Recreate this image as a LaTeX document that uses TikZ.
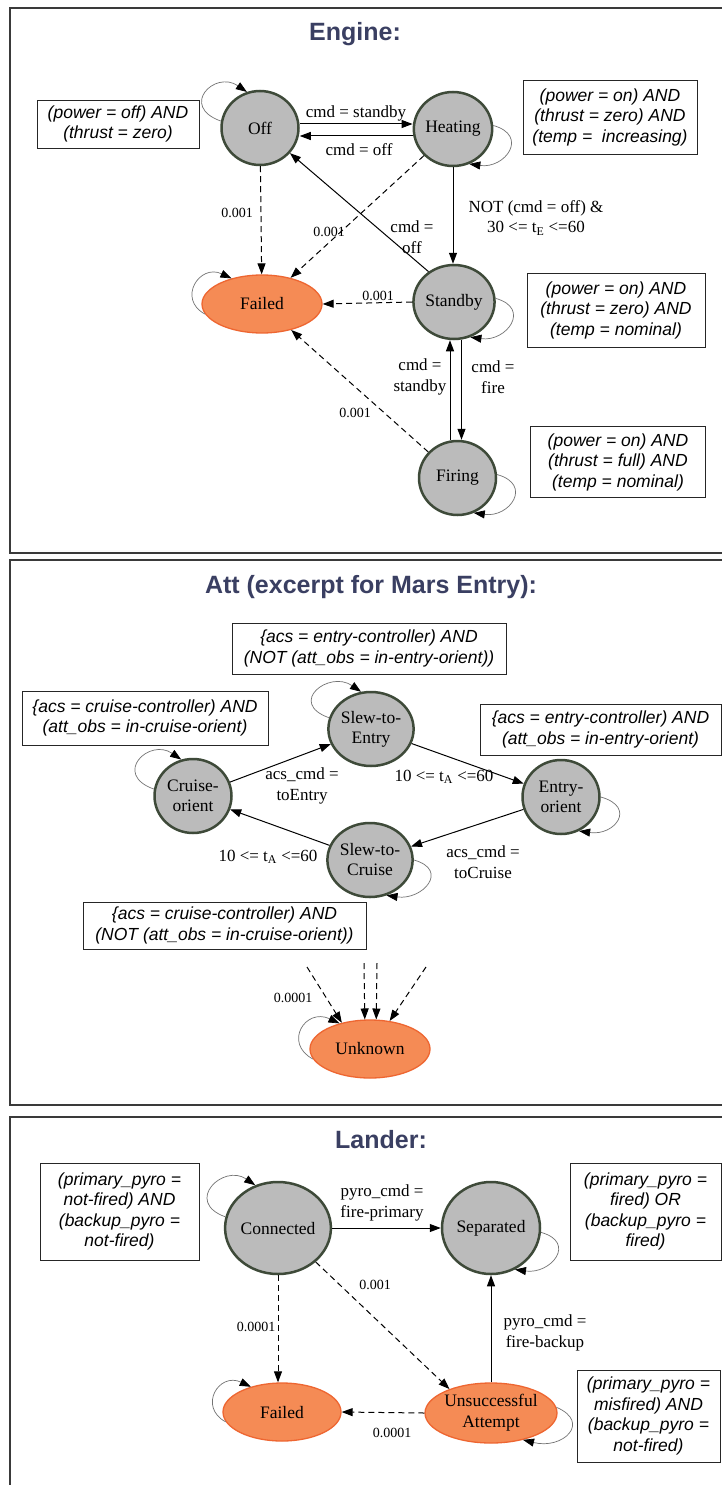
\documentclass[tikz,border=0pt]{standalone}
\usepackage{fontspec}
\setmainfont{Liberation Serif}
\newfontfamily\notefamily{Liberation Sans}
\usetikzlibrary{shapes.geometric,arrows.meta}

\definecolor{stategray}{HTML}{BBBBBB}
\definecolor{stateline}{HTML}{3E4A39}
\definecolor{failfill}{HTML}{F58B55}
\definecolor{failline}{HTML}{EE6631}
\definecolor{titleblue}{HTML}{3A3F62}
\definecolor{panelline}{HTML}{3A3A3A}

% self-loops hanging off the upper left and the lower right of a state
\newcommand\loopupleft[3]{\draw[selfloop] (#1.#2) .. controls +(-42,15) and +(-32,22) .. (#1.#3);}
\newcommand\looplowright[3]{\draw[selfloop] (#1.#2) .. controls +(36,-10) and +(36,-5) .. (#1.#3);}

\begin{document}
\begin{tikzpicture}[x=1pt,y=1pt,
  state/.style={ellipse, draw=stateline, line width=2.5pt, fill=stategray,
    minimum width=77pt, minimum height=74pt, inner sep=0pt, align=center,
    font=\fontsize{17.5}{20}\selectfont},
  fail/.style={ellipse, draw=failline, line width=1.3pt, fill=failfill,
    minimum width=120pt, minimum height=58pt, inner sep=0pt, align=center,
    font=\fontsize{17.5}{21}\selectfont},
  note/.style={draw=black!85, line width=0.9pt, align=center, inner sep=0pt,
    font=\notefamily\itshape\fontsize{17.5}{20.5}\selectfont},
  lbl/.style={align=center, inner sep=0pt, font=\fontsize{17}{20.5}\selectfont},
  plbl/.style={inner sep=0pt, font=\fontsize{14}{16}\selectfont},
  paneltitle/.style={font=\notefamily\bfseries\fontsize{25}{30}\selectfont, text=titleblue},
  edge/.style={-{Triangle[length=11pt,width=8pt]}, line width=1pt},
  dedge/.style={edge, dash pattern=on 6pt off 4pt},
  selfloop/.style={-{Triangle[length=11pt,width=8pt,color=black]}, line width=0.7pt, draw=black!55},
  panel/.style={draw=panelline, line width=1.4pt}]

\useasboundingbox (0,0) rectangle (722,-1485);
\fill[white] (0,0) rectangle (722,-1485);

% panel frames (open to the right)
\draw[panel] (730,-8) -- (10,-8) -- (10,-553) -- (730,-553);
\draw[panel] (730,-560) -- (10,-560) -- (10,-1105) -- (730,-1105);
\draw[panel] (730,-1117) -- (10,-1117) -- (10,-1490);

%% ---------------- Engine ----------------
\node[paneltitle] (tEngine) at (355,-34) {Engine:};

\node[state] (off)  at (260,-128) {Off};
\node[state] (heat) at (453,-129) {Heating};
\node[state] (stby) at (454,-302) {Standby};
\node[state] (fire) at (457.5,-478) {Firing};
\node[fail]  (failE) at (262,-304) {Failed};

\node[note, minimum width=162pt, minimum height=48pt] (nOff) at (118,-124)
  {(power = off) AND\\(thrust = zero)};
\node[note, minimum width=174pt, minimum height=74pt] (nHeat) at (610,-117)
  {(power = on) AND\\(thrust = zero) AND\\(temp =\ \ increasing)};
\node[note, minimum width=178pt, minimum height=74pt] (nStby) at (616,-310)
  {(power = on) AND\\(thrust = zero) AND\\(temp = nominal)};
\node[note, minimum width=175pt, minimum height=71pt] (nFire) at (618,-462)
  {(power = on) AND\\(thrust = full) AND\\(temp = nominal)};

\draw[edge] (off.east |- 0,-124) -- (heat.west |- 0,-124);
\draw[edge] (heat.west |- 0,-136) -- (off.east |- 0,-136);
\node[lbl] (lStandby) at (356,-113) {cmd = standby};
\node[lbl] (lOff) at (359,-150) {cmd = off};

\draw[dedge] (off) -- (failE);
\node[plbl] (pOff) at (237,-213) {0.001};
\draw[dedge] (heat) -- (failE);
\node[plbl] (pHeat) at (329,-232) {0.001};

\draw[edge] (stby.130) -- (off.-40);
\node[lbl] (lStbyOff) at (412,-237) {cmd =\\off};

\draw[edge] (heat.south) -- (heat.south |- stby.north);
\node[lbl] (lHeatStby) at (536,-218) {NOT (cmd = off) \&\\30 <= t\textsubscript{E} <=60};

\draw[dedge] (stby.west) -- (failE.east);
\node[plbl] (pStby) at (378,-296) {0.001};

\draw[edge] ([xshift=-7.5pt]fire.north) -- ([xshift=-7.5pt]fire.north |- stby.south);
\draw[edge] ([xshift=7.5pt]stby.south) -- ([xshift=7.5pt]stby.south |- fire.north);
\node[lbl] (lFireStby) at (420,-377) {cmd =\\standby};
\node[lbl] (lStbyFire) at (493,-377) {cmd =\\fire};

\draw[dedge] (fire) -- (failE);
\node[plbl] (pFire) at (355,-413) {0.001};

\loopupleft{off}{170}{110}
\looplowright{heat}{5}{-65}
\looplowright{stby}{5}{-65}
\looplowright{fire}{5}{-65}
\draw[selfloop] (failE.190) .. controls +(-28,15) and +(-32,15) .. (failE.140);

%% ---------------- Att ----------------
\node[paneltitle] (tAtt) at (371,-587) {Att (excerpt for Mars Entry):};

\node[state] (cruise) at (193,-796) {Cruise-\\orient};
\node[state] (slewE)  at (371,-729) {Slew-to-\\Entry};
\node[state] (entry)  at (561,-797) {Entry-\\orient};
\node[state] (slewC)  at (370,-860) {Slew-to-\\Cruise};
\node[fail]  (unk)    at (370,-1049) {Unknown};

\node[note, minimum width=274pt, minimum height=51pt] (nSlewE) at (369,-648.5)
  {\{acs = entry-controller) AND\\(NOT (att\_obs = in-entry-orient))};
\node[note, minimum width=246pt, minimum height=54pt] (nCruise) at (145,-718)
  {\{acs = cruise-controller) AND\\(att\_obs = in-cruise-orient)};
\node[note, minimum width=241pt, minimum height=51pt] (nEntry) at (600.5,-729.5)
  {\{acs = entry-controller) AND\\(att\_obs = in-entry-orient)};
\node[note, minimum width=283pt, minimum height=47pt] (nSlewC) at (224.5,-925.5)
  {\{acs = cruise-controller) AND\\(NOT (att\_obs = in-cruise-orient))};

\draw[edge] (cruise) -- (slewE);
\node[lbl] (lToEntry) at (302,-786) {acs\_cmd =\\toEntry};
\draw[edge] (slewE) -- (entry);
\node[lbl] (lTimeE) at (444,-777) {10 <= t\textsubscript{A} <=60};
\draw[edge] (entry) -- (slewC);
\node[lbl] (lToCruise) at (483,-862) {acs\_cmd =\\toCruise};
\draw[edge] (slewC) -- (cruise);
\node[lbl] (lTimeC) at (268,-857) {10 <= t\textsubscript{A} <=60};

\loopupleft{cruise}{170}{108}
\loopupleft{slewE}{165}{105}
\looplowright{entry}{0}{-62}
\looplowright{slewC}{0}{-65}
\draw[selfloop] (unk.190) .. controls +(-30,16) and +(-34,16) .. (unk.140);

% failure transitions from every attitude mode
\coordinate (u1) at (307,-967);
\coordinate (u2) at (364,-963);
\coordinate (u3) at (377,-963);
\coordinate (u4) at (426,-967);
\draw[dedge] (u1) -- (unk.137);
\draw[dedge] (u2) -- (unk.100);
\draw[dedge] (u3) -- (unk.78);
\draw[dedge] (u4) -- (unk.55);
\node[plbl] (pUnk) at (293,-998) {0.0001};

%% ---------------- Lander ----------------
\node[paneltitle] (tLander) at (381,-1140) {Lander:};

\node[state, minimum width=94pt, minimum height=92pt] (conn) at (278,-1228) {Connected};
\node[state, minimum width=98pt, minimum height=92pt] (sep)  at (491,-1228) {Separated};
\node[fail, minimum width=118pt, minimum height=58pt] (failL) at (282,-1412) {Failed};
\node[fail, minimum width=122pt, minimum height=60pt] (unsu) at (491,-1413) {Unsuccessful\\Attempt};

\node[note, minimum width=159pt, minimum height=97pt] (nConn) at (119.5,-1211.5)
  {(primary\_pyro =\\not-fired) AND\\(backup\_pyro =\\not-fired)};
\node[note, minimum width=151pt, minimum height=97pt] (nSep) at (645.5,-1211.5)
  {(primary\_pyro =\\fired) OR\\(backup\_pyro =\\fired)};
\node[note, minimum width=143pt, minimum height=92pt] (nUnsu) at (648.5,-1416)
  {(primary\_pyro =\\misfired) AND\\(backup\_pyro =\\not-fired)};

\draw[edge] (conn.east) -- (sep.west);
\node[lbl] (lPrimary) at (382,-1203) {pyro\_cmd =\\fire-primary};
\draw[dedge] (conn.south) -- (conn.south |- failL.north);
\node[plbl] (pConnFail) at (256,-1327) {0.0001};
\draw[dedge] (conn.-42) -- (unsu.150);
\node[plbl] (pConnUnsu) at (375,-1285) {0.001};
\draw[edge] (unsu.north) -- (sep.south);
\node[lbl] (lBackup) at (545,-1333) {pyro\_cmd =\\fire-backup};
\draw[dedge] (unsu.west) -- (failL.east);
\node[plbl] (pUnsuFail) at (392,-1433) {0.0001};

\loopupleft{conn}{168}{118}
\looplowright{sep}{-5}{-60}
\draw[selfloop] (failL.190) .. controls +(-28,15) and +(-32,15) .. (failL.141);
\draw[selfloop] (unsu.5) .. controls +(35,-15) and +(40,-10) .. (unsu.-40);

\end{tikzpicture}
\end{document}
